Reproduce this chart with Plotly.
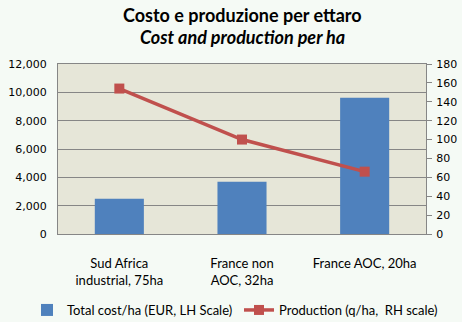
import plotly.graph_objects as go

categories = ["Sud Africa<br>industrial, 75ha", "France non<br>AOC, 32ha", "France AOC, 20ha"]
total_cost = [2480, 3680, 9620]
production = [154, 100, 66]

bar_name = "Total cost/ha (EUR, LH Scale)"
line_name = "Production (q/ha,  RH scale)"
title_1 = "Costo e produzione per ettaro"
title_2 = "Cost and production per ha"

PLOT_L, PLOT_R = 58, 426
PLOT_TOP, PLOT_BOT = 64, 234
def py(pix):
    return (PLOT_BOT - pix) / (PLOT_BOT - PLOT_TOP)
def px(pix):
    return (pix - PLOT_L) / (PLOT_R - PLOT_L)

fig = go.Figure()
fig.add_trace(go.Bar(x=categories, y=total_cost, name=bar_name, legend="legend",
                     marker=dict(color="#4F81BD", line=dict(width=0)), width=0.4))
fig.add_trace(go.Scatter(x=categories, y=production, name=line_name, yaxis="y2",
                         legend="legend2", mode="lines+markers",
                         line=dict(color="#C0504D", width=3.5),
                         marker=dict(symbol="square", size=10, color="#C0504D")))

fig.add_annotation(text="<b>" + title_1 + "</b>", xref="paper", yref="paper",
                   x=0.5, y=py(15), xanchor="center", yanchor="middle", showarrow=False,
                   font=dict(family="Lato", size=18, color="#000000"))
fig.add_annotation(text="<b><i>" + title_2 + "</i></b>", xref="paper", yref="paper",
                   x=0.5, y=py(37), xanchor="center", yanchor="middle", showarrow=False,
                   font=dict(family="Lato", size=18, color="#000000"))

leg_common = dict(orientation="h", xanchor="left", yanchor="middle", y=py(310),
                  font=dict(family="Lato", size=13, color="#000000"),
                  bgcolor="rgba(0,0,0,0)", itemwidth=30)

fig.update_layout(
    width=462, height=322,
    margin=dict(l=PLOT_L, r=462 - PLOT_R, t=PLOT_TOP, b=322 - PLOT_BOT, autoexpand=False),
    paper_bgcolor="#F5FAF5",
    plot_bgcolor="#E6E6D8",
    font=dict(family="DejaVu Sans", size=11, color="#000000"),
    xaxis=dict(showgrid=False, showline=True, linecolor="#868686", linewidth=1,
               mirror=True, ticks="", tickfont=dict(family="Lato", size=13), ticklabelstandoff=17),
    yaxis=dict(range=[0, 12000], dtick=2000, tickformat=",", showgrid=True,
               gridcolor="#868686", gridwidth=1, showline=True, linecolor="#868686",
               ticks="", zeroline=False, ticklabelstandoff=8,
               tickfont=dict(family="DejaVu Sans", size=11)),
    yaxis2=dict(range=[0, 180], dtick=20, overlaying="y", side="right", showgrid=False,
                showline=True, linecolor="#868686", ticks="outside", ticklen=5,
                tickcolor="#868686", zeroline=False, ticklabelstandoff=2,
                tickfont=dict(family="DejaVu Sans", size=11)),
    legend=dict(x=px(27), **leg_common),
    legend2=dict(x=px(239), **leg_common),
    showlegend=True,
)

fig.write_html("out.html")
